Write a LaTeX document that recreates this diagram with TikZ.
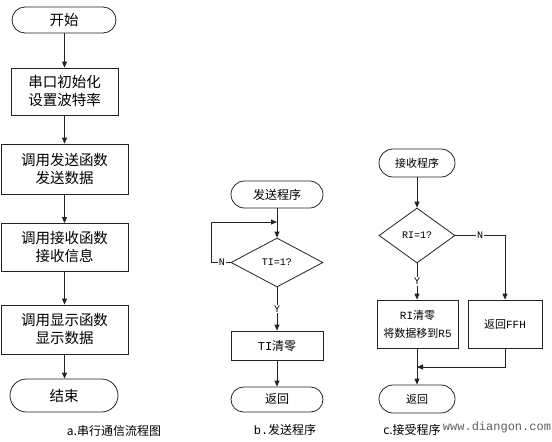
\documentclass[tikz,border=0pt]{standalone}
\usepackage{fontspec}
\setmainfont{Noto Sans CJK SC}
\newfontfamily\mono{Liberation Mono}
\usetikzlibrary{arrows.meta, shapes.geometric, shapes.misc}
\definecolor{linegray}{RGB}{35,35,35}
\definecolor{markgray}{RGB}{95,95,95}

\begin{document}
\begin{tikzpicture}[x=1pt, y=-1pt, line width=0.8pt,
  term/.style={draw=linegray, rounded rectangle, inner sep=0pt},
  proc/.style={draw=linegray, rectangle, inner sep=0pt, align=center},
  dec/.style={draw=linegray, diamond, inner sep=0pt},
  arr/.style={draw=linegray, -{Triangle[length=6pt,width=5pt]}},
  lbl/.style={fill=white, inner sep=1pt, font=\mono\fontsize{10}{12}\selectfont}]
  \useasboundingbox (0,0) rectangle (552,442);

  % a: main flow
  \begin{scope}[every node/.append style={font=\fontsize{14.5}{18}\selectfont}]
    \node[term, minimum width=104pt, minimum height=26pt] (startA) at (64,20) {开始};
    \node[proc, minimum width=107pt, minimum height=47pt] (initA) at (64.5,91.5) {串口初始化\\设置波特率};
    \node[proc, minimum width=127pt, minimum height=50pt] (sendA) at (64.5,169) {调用发送函数\\发送数据};
    \node[proc, minimum width=127pt, minimum height=48pt] (recvA) at (64.5,247.5) {调用接收函数\\接收信息};
    \node[proc, minimum width=127pt, minimum height=49pt] (dispA) at (64.5,329.5) {调用显示函数\\显示数据};
    \node[term, minimum width=108pt, minimum height=33pt] (endA) at (64,395.5) {结束};
  \end{scope}
  \draw[arr] (startA.south -| initA) -- (initA.north);
  \draw[arr] (initA.south) -- (sendA.north);
  \draw[arr] (sendA.south) -- (recvA.north);
  \draw[arr] (recvA.south) -- (dispA.north);
  \draw[arr] (dispA.south) -- (endA.north -| dispA);

  % b: send routine
  \begin{scope}[every node/.append style={font=\fontsize{12}{16}\selectfont}]
    \node[term, minimum width=92pt, minimum height=27pt] (startB) at (277,194.5) {发送程序};
    \node[dec, minimum width=92pt, minimum height=49pt] (decB) at (277,262.5) {\mono\fontsize{10}{12}\selectfont TI=1?};
    \node[proc, minimum width=92pt, minimum height=29pt] (clrB) at (277,345.5) {{\mono TI}清零};
    \node[term, minimum width=92pt, minimum height=25pt] (retB) at (277,399.5) {返回};
  \end{scope}
  \coordinate (loopB) at (277,222);
  \coordinate (cornerB) at (211,262.5);
  \draw[arr] (startB.south) -- (decB.north);
  \draw[arr] (decB.west) -- node[lbl, pos=0.45] {N} (cornerB) |- (loopB);
  \draw[arr] (decB.south) -- node[lbl] {Y} (clrB.north);
  \draw[arr] (clrB.south) -- (retB.north);

  % c: receive routine
  \begin{scope}[every node/.append style={font=\fontsize{11}{18}\selectfont}]
    \node[term, minimum width=76pt, minimum height=28pt] (startC) at (417,163) {接收程序};
    \node[dec, minimum width=76pt, minimum height=55pt] (decC) at (417,235.5) {\mono\fontsize{10}{12}\selectfont RI=1?};
    \node[proc, minimum width=81pt, minimum height=48pt] (clrC) at (417.5,324) {{\mono RI}清零\\将数据移到{\mono R5}};
    \node[proc, minimum width=74pt, minimum height=48pt] (ffhC) at (505,324) {返回{\mono FFH}};
    \node[term, minimum width=76pt, minimum height=28pt] (retC) at (417,399) {返回};
  \end{scope}
  \coordinate (mergeC) at (417,367);
  \draw[arr] (startC.south) -- (decC.north);
  \draw[arr] (decC.east) -- node[lbl, pos=0.5] {N} (decC.east -| ffhC) -- (ffhC.north);
  \draw[arr] (decC.south) -- node[lbl] {Y} (clrC.north -| decC);
  \draw[arr] (ffhC.south) |- (mergeC);
  \draw[arr] (clrC.south -| decC) -- (retC.north);

  % captions
  \node[font=\fontsize{12}{14}\selectfont] (capA) at (114,431) {a.串行通信流程图};
  \node[font=\fontsize{12}{14}\selectfont] (capB) at (285,430) {{\mono b.}发送程序};
  \node[font=\fontsize{12}{14}\selectfont] (capC) at (412,430) {c.接受程序};
  \node[font=\mono\fontsize{12}{14}\selectfont, text=markgray, inner sep=0pt] (markC) at (497,427) {www.diangon.com};
\end{tikzpicture}
\end{document}
